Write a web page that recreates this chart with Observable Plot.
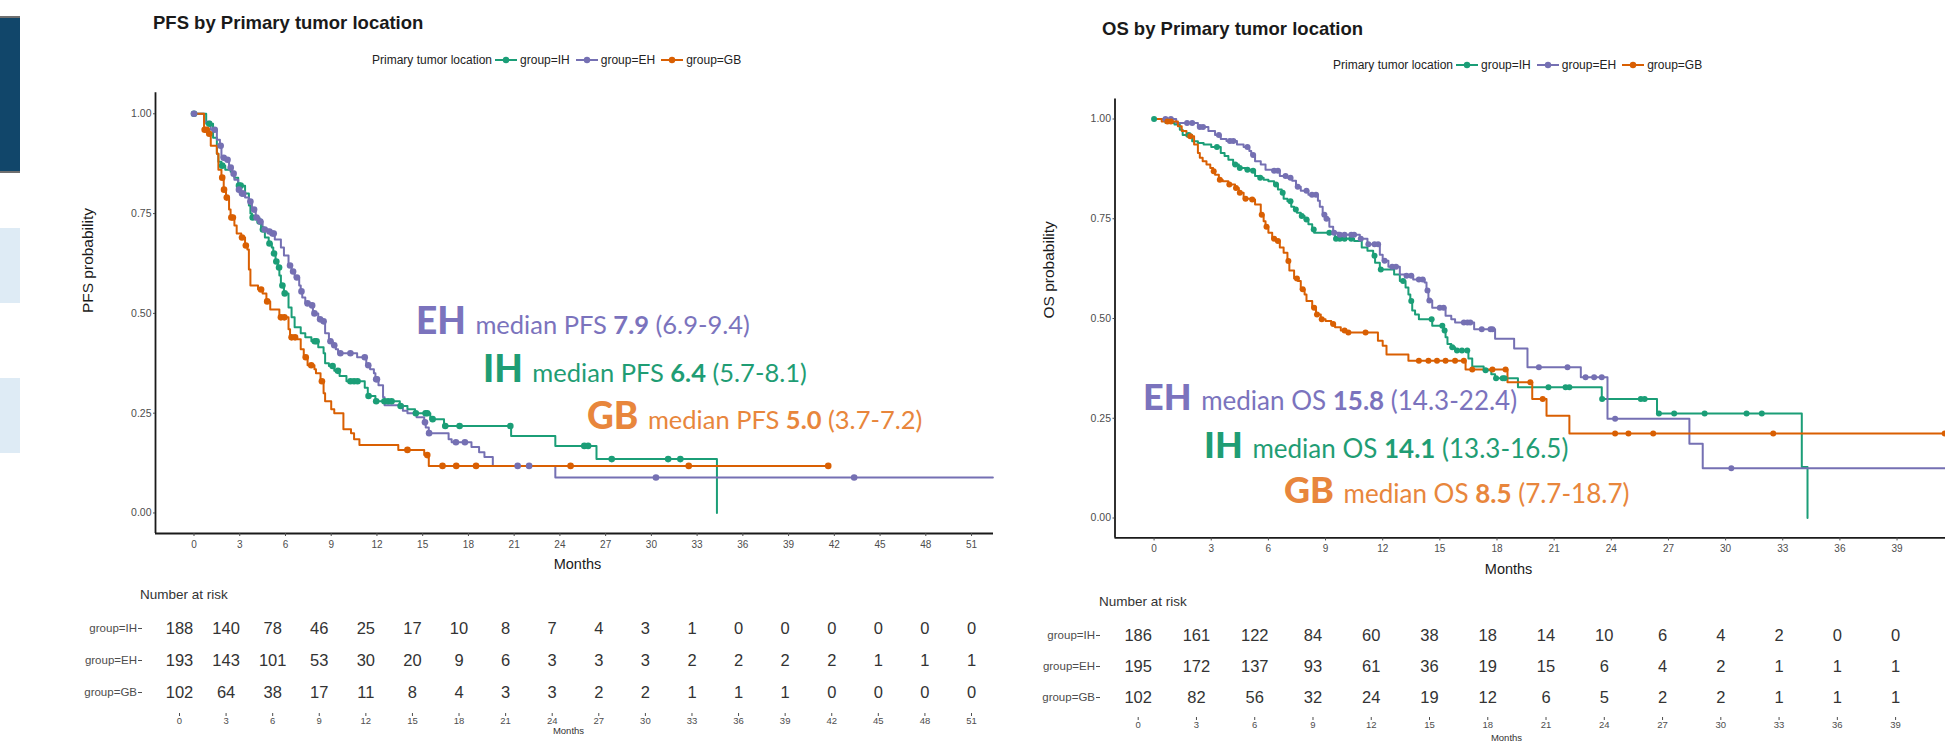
<!DOCTYPE html>
<html>
<head>
<meta charset="utf-8">
<script src="https://cdn.jsdelivr.net/npm/d3@7"></script>
<script src="https://cdn.jsdelivr.net/npm/@observablehq/plot@0.6"></script>
<style>
  html, body { margin:0; padding:0; background:#fff; width:1945px; height:745px; overflow:hidden; }
  #page { position:relative; width:1945px; height:745px; overflow:hidden; background:#fff; }
  #page svg { max-width:none !important; }
  .abs { position:absolute; }
  .deco { position:absolute; left:0; width:20px; }
  .title { position:absolute; font-family:"Liberation Sans", Arial, sans-serif; font-weight:700; color:#1a1a1a; white-space:nowrap; line-height:1; font-size:18.5px; }
  .legend { position:absolute; display:flex; align-items:center; white-space:nowrap; line-height:1; color:#222; font-family:"Liberation Sans", Arial, sans-serif; font-size:12px; }
  .legend svg { margin:0 3px 0 3px; }
  .risk-title { position:absolute; white-space:nowrap; line-height:1; color:#333; font-family:"Liberation Sans", Arial, sans-serif; font-size:13.5px; }
  .annot { position:absolute; white-space:pre; line-height:1; font-family: Lato, "Open Sans", sans-serif; }
  .annot .g { font-weight:900; }
  .annot .s { margin-left:3px; }
  .annot b { font-weight:700; }
</style>
</head>
<body>
<div id="page"></div>
<script>
// ---------------- data ----------------
const groups = ["IH", "EH", "GB"];
const groupLabels = ["group=IH", "group=EH", "group=GB"];
const groupColors = ["#1b9e77", "#7570b3", "#d95f02"];
const yTicks = [0, 0.25, 0.5, 0.75, 1];

const pfsMonths = [0,3,6,9,12,15,18,21,24,27,30,33,36,39,42,45,48,51];
const osMonths = [0,3,6,9,12,15,18,21,24,27,30,33,36,39];

// PFS Kaplan-Meier steps (time in months, survival after the step)
const pfsIH_t = [0,0.8,1.25,1.5,1.6,1.8,2.05,2.4,2.65,2.9,3.35,3.6,3.7,3.8,4.2,4.4,4.65,4.9,5.1,5.2,5.35,5.5,5.6,5.7,5.9,6.2,6.4,6.6,7.0,7.3,7.7,8.15,8.5,8.6,8.85,9.2,9.55,10.0,11.2,11.4,11.9,13.5,14.0,14.5,15.5,16.4,20.8,23.7,26.4,34.3];
const pfsIH_s = [1,0.975,0.94,0.90,0.88,0.87,0.86,0.855,0.84,0.82,0.80,0.77,0.75,0.74,0.73,0.71,0.69,0.675,0.665,0.65,0.63,0.615,0.595,0.57,0.55,0.515,0.49,0.465,0.45,0.44,0.43,0.415,0.40,0.375,0.368,0.356,0.343,0.33,0.314,0.293,0.28,0.268,0.26,0.25,0.235,0.218,0.193,0.168,0.135,0];
const pfsIH_c = [0,1.0,1.85,2.95,3.06,3.85,4.3,4.52,4.95,5.25,5.4,5.58,5.8,5.95,7.92,8.04,9.09,9.44,10.26,10.5,10.73,11.45,11.95,12.49,12.73,12.96,13.55,14.55,15.19,15.3,15.65,16.48,17.42,20.75,25.6,25.85,27.4,31.1,31.9];

const pfsEH_t = [0,0.66,1.1,1.5,1.7,1.8,2.1,2.3,2.5,2.65,2.9,3.1,3.35,3.6,3.8,4.05,4.3,4.5,4.9,5.1,5.3,5.7,5.9,6.2,6.4,6.6,6.9,7.0,7.1,7.3,7.7,7.8,8.15,8.4,8.6,8.85,9.1,9.3,9.45,10.7,11.3,11.55,11.8,11.9,12.1,12.4,12.5,13.7,14.0,14.6,15.1,15.2,15.4,16.7,16.9,18.2,18.7,19.05,19.6,23.7,52.4];
const pfsEH_s = [1,0.98,0.96,0.935,0.92,0.89,0.885,0.865,0.85,0.835,0.81,0.80,0.79,0.78,0.76,0.74,0.73,0.71,0.705,0.70,0.685,0.665,0.645,0.62,0.605,0.59,0.57,0.555,0.54,0.525,0.52,0.50,0.485,0.48,0.45,0.43,0.42,0.41,0.40,0.39,0.37,0.36,0.35,0.335,0.32,0.29,0.27,0.256,0.25,0.24,0.227,0.214,0.20,0.185,0.177,0.165,0.152,0.14,0.118,0.089,0.089];
const pfsEH_c = [0,1.36,1.75,1.95,2.2,2.41,2.6,2.95,3.15,3.23,3.7,3.94,4.1,4.35,4.64,4.95,5.15,5.23,6.3,6.5,6.75,7.05,7.45,7.75,7.9,8.27,8.5,8.95,9.2,9.6,10.26,11.2,11.43,11.95,12.0,15.15,15.42,17.18,17.77,21.23,21.98,30.3,43.3];

const pfsGB_t = [0,0.66,0.9,1.1,1.5,1.6,1.8,1.95,2.1,2.3,2.4,2.65,2.8,3.1,3.35,3.5,3.6,3.7,4.2,4.5,4.75,5.0,5.6,6.2,6.3,6.75,7.0,7.2,7.45,7.9,8.0,8.3,8.5,8.6,9.0,9.2,9.8,10.3,10.5,10.85,13.4,15.1,15.4,41.6];
const pfsGB_s = [1,0.96,0.95,0.92,0.90,0.86,0.84,0.81,0.79,0.76,0.74,0.72,0.70,0.69,0.67,0.66,0.61,0.57,0.56,0.55,0.53,0.51,0.49,0.46,0.44,0.435,0.41,0.39,0.37,0.36,0.35,0.33,0.30,0.28,0.26,0.25,0.21,0.20,0.185,0.17,0.158,0.145,0.118,0.118];
const pfsGB_c = [0.7,0.84,1.0,1.85,1.97,2.15,2.45,2.55,3.15,3.4,4.4,4.8,5.7,5.93,6.4,6.63,7.33,7.69,8.39,14.0,15.3,16.3,17.2,18.5,24.7,32.45,41.6];

// OS Kaplan-Meier steps
const osIH_t = [0,0.6,1.07,1.35,1.5,2.0,2.3,2.6,3.0,3.5,3.7,3.9,4.15,4.45,4.8,5.1,5.3,5.5,5.75,6.0,6.3,6.5,6.7,6.8,7.0,7.2,7.35,7.5,7.7,7.9,8.1,8.3,8.4,9.5,10.5,10.9,11.2,11.5,11.6,11.85,12.6,12.9,13.2,13.35,13.45,13.55,13.7,13.9,14.6,15.2,15.3,15.4,15.6,15.8,16.5,16.7,17.3,17.7,17.9,19.1,23.5,26.4,34.0,34.3];
const osIH_s = [1,0.99,0.986,0.973,0.96,0.944,0.94,0.936,0.93,0.915,0.907,0.898,0.886,0.877,0.873,0.87,0.857,0.853,0.848,0.844,0.836,0.823,0.815,0.80,0.794,0.78,0.773,0.765,0.757,0.748,0.736,0.723,0.715,0.70,0.694,0.678,0.67,0.657,0.64,0.623,0.61,0.594,0.578,0.56,0.544,0.52,0.51,0.498,0.482,0.47,0.453,0.436,0.428,0.42,0.40,0.38,0.37,0.36,0.35,0.328,0.298,0.262,0.128,0];
const osIH_c = [0,1.82,3.3,4.26,4.5,4.9,5.2,5.57,6.4,6.75,7.16,7.44,7.75,8.0,8.38,9.2,9.55,9.75,10.0,10.35,11.57,11.9,13.07,13.5,14.57,15.13,15.25,15.65,15.9,16.16,16.44,17.4,17.95,18.3,18.4,20.7,21.6,21.8,23.52,25.55,25.75,26.5,27.3,28.9,31.1,31.9];

const osEH_t = [0,1.16,2.3,2.85,3.2,3.5,3.8,4.35,4.7,5.0,5.1,5.3,5.6,5.85,6.2,6.6,7.0,7.25,7.45,7.7,8.1,8.6,8.7,8.85,9.0,9.2,9.4,9.7,10.8,11.2,11.85,12.0,12.3,12.9,13.2,13.6,14.2,14.3,14.4,14.6,15.3,15.6,15.8,16.8,17.9,18.9,19.6,22.4,23.8,28.1,28.8,43.7];
const osEH_s = [1,0.99,0.98,0.97,0.96,0.95,0.945,0.936,0.93,0.92,0.91,0.894,0.886,0.873,0.87,0.857,0.853,0.845,0.83,0.82,0.81,0.795,0.78,0.76,0.75,0.73,0.715,0.71,0.70,0.686,0.66,0.645,0.63,0.61,0.607,0.598,0.59,0.57,0.545,0.527,0.507,0.498,0.49,0.473,0.449,0.425,0.378,0.353,0.249,0.186,0.125,0.125];
const osEH_c = [0.6,0.88,1.73,2.0,2.4,2.57,3.4,3.98,4.16,4.9,5.2,6.3,6.5,6.9,7.16,7.54,8.0,8.29,8.5,8.94,9.05,9.45,9.75,10.0,10.35,10.5,10.85,11.25,11.57,11.76,12.1,12.5,12.7,13.25,13.5,13.9,14.1,14.35,14.45,15.0,15.2,16.26,16.45,16.6,17.2,17.66,17.76,20.2,21.7,22.65,23.1,23.5,24.2,30.3];

const osGB_t = [0,0.4,1.25,1.45,1.7,2.1,2.3,2.4,2.55,2.75,2.95,3.1,3.2,3.4,3.6,3.9,4.25,4.45,4.7,5.1,5.3,5.6,5.75,5.85,6.0,6.2,6.4,6.6,6.8,7.0,7.1,7.35,7.55,7.7,7.9,8.0,8.3,8.5,8.75,9.0,9.3,9.5,9.8,10.1,11.75,12.0,12.2,13.35,16.35,18.55,19.85,20.6,21.8,41.5];
const osGB_s = [1,0.994,0.982,0.97,0.957,0.936,0.915,0.903,0.894,0.886,0.877,0.869,0.86,0.848,0.844,0.836,0.827,0.815,0.80,0.798,0.786,0.76,0.744,0.73,0.715,0.70,0.694,0.678,0.665,0.644,0.62,0.60,0.594,0.573,0.56,0.544,0.527,0.51,0.498,0.494,0.486,0.478,0.47,0.465,0.444,0.432,0.41,0.394,0.372,0.34,0.298,0.256,0.212,0.212];
const osGB_c = [0.7,0.88,1.9,3.13,3.45,3.95,4.3,4.5,4.8,5.15,5.65,5.9,6.3,6.5,7.05,7.5,7.8,8.4,8.55,8.8,9.4,10.0,10.2,11.1,13.9,14.4,14.85,15.3,15.8,16.26,16.7,17.76,18.45,19.75,20.4,24.2,24.9,26.2,32.5,41.5];

// Number at risk
const pfsRiskIH = [188,140,78,46,25,17,10,8,7,4,3,1,0,0,0,0,0,0];
const pfsRiskEH = [193,143,101,53,30,20,9,6,3,3,3,2,2,2,2,1,1,1];
const pfsRiskGB = [102,64,38,17,11,8,4,3,3,2,2,1,1,1,0,0,0,0];
const osRiskIH = [186,161,122,84,60,38,18,14,10,6,4,2,0,0];
const osRiskEH = [195,172,137,93,61,36,19,15,6,4,2,1,1,1];
const osRiskGB = [102,82,56,32,24,19,12,6,5,2,2,1,1,1];

// Median annotations (order EH, IH, GB)
const medianGroups = ["EH", "IH", "GB"];
const medianColors = ["#7b73bd", "#1f9d74", "#e8863c"];
const pfsMedianEst = ["7.9", "6.4", "5.0"];
const pfsMedianCI = ["(6.9-9.4)", "(5.7-8.1)", "(3.7-7.2)"];
const osMedianEst = ["15.8", "14.1", "8.5"];
const osMedianCI = ["(14.3-22.4)", "(13.3-16.5)", "(7.7-18.7)"];

// ---------------- helpers ----------------
const FONT = '"Liberation Sans", Arial, sans-serif';
const page = document.getElementById("page");

function survAt(times, survs, t) {
  let s = survs[0];
  for (let i = 0; i < times.length; i++) if (times[i] <= t) s = survs[i];
  return s;
}
function km(group, times, survs) { return times.map((t, i) => ({group, t, s: survs[i]})); }
function cens(group, times, survs, ct) { return ct.map(t => ({group, t, s: survAt(times, survs, t)})); }
function riskRows(months, rows) {
  return rows.flatMap((vals, gi) => vals.map((n, i) => ({g: groupLabels[gi], t: months[i], n})));
}
function place(node, left, top) {
  const d = document.createElement("div");
  d.className = "abs";
  d.style.left = left + "px";
  d.style.top = top + "px";
  d.appendChild(node);
  page.appendChild(d);
  return d;
}
function deco(top, height, color, border) {
  const d = document.createElement("div");
  d.className = "deco";
  d.style.top = top + "px";
  d.style.height = height + "px";
  d.style.background = color;
  if (border) { d.style.borderTop = border; d.style.borderBottom = border; }
  page.appendChild(d);
}
function title(text, left, top) {
  const d = document.createElement("div");
  d.className = "title";
  d.textContent = text;
  d.style.left = left + "px"; d.style.top = top + "px";
  page.appendChild(d);
}
function legend(left, top) {
  const d = document.createElement("div");
  d.className = "legend";
  d.style.left = left + "px"; d.style.top = top + "px";
  let html = `<span>Primary tumor location</span>`;
  groups.forEach((g, i) => {
    html += `<svg width="22" height="10"><line x1="0" x2="22" y1="5" y2="5" stroke="${groupColors[i]}" stroke-width="2"/><circle cx="11" cy="5" r="3.2" fill="${groupColors[i]}"/></svg><span>${groupLabels[i]}</span>`;
    if (i < groups.length - 1) html += `<span style="width:3px"></span>`;
  });
  d.innerHTML = html;
  page.appendChild(d);
}
function riskTitle(left, top) {
  const d = document.createElement("div");
  d.className = "risk-title";
  d.textContent = "Number at risk";
  d.style.left = left + "px"; d.style.top = top + "px";
  page.appendChild(d);
}
function annot(i, label, est, ci, left, baseline, big, small) {
  const d = document.createElement("div");
  d.className = "annot";
  d.style.left = left + "px";
  d.style.top = (baseline - 0.887 * big) + "px";
  d.style.fontSize = big + "px";
  d.style.color = medianColors[i];
  d.innerHTML = `<span class="g">${medianGroups[i]}</span><span class="s" style="font-size:${small}px"> ${label} <b>${est}</b> ${ci}</span>`;
  page.appendChild(d);
}

function mainPlot(o) {
  const {width, height, xDomain, xRange, yDomain, yRange, xTicks, lines, dots, ylabel, ylabelDx, xlabelDx, xlabelDy, dotR} = o;
  return Plot.plot({
    width, height,
    marginLeft: xRange[0], marginRight: width - xRange[1],
    marginTop: yRange[1], marginBottom: height - yRange[0],
    x: {domain: xDomain, range: xRange},
    y: {domain: yDomain, range: yRange},
    color: {domain: groups, range: groupColors},
    style: {fontFamily: FONT, background: "transparent", overflow: "visible", maxWidth: "none"},
    marks: [
      Plot.ruleX([xDomain[0]], {stroke: "#1a1a1a", strokeWidth: 1.8}),
      Plot.ruleY([yDomain[0]], {stroke: "#1a1a1a", strokeWidth: 1.8}),
      Plot.axisX({ticks: xTicks, tickSize: 3, tickPadding: 4, fontSize: 10, color: "#4d4d4d", label: null}),
      Plot.axisY({ticks: yTicks, tickFormat: d3.format(".2f"), tickSize: 2, tickPadding: 2, fontSize: 10.5, color: "#4d4d4d", label: null}),
      Plot.text(["Months"], {text: d => d, frameAnchor: "bottom", dx: xlabelDx, dy: xlabelDy, fontSize: 14.5, fill: "#1a1a1a"}),
      Plot.text([ylabel], {text: d => d, frameAnchor: "left", dx: ylabelDx, rotate: -90, fontSize: 15.5, fill: "#1a1a1a"}),
      Plot.line(lines, {x: "t", y: "s", z: "group", stroke: "group", curve: "step-after", strokeWidth: 2}),
      Plot.dot(dots, {x: "t", y: "s", fill: "group", r: dotR})
    ]
  });
}

function riskPlot(o) {
  const {width, height, marginLeft, marginRight, marginTop, marginBottom, xDomain, xRange, yRange, ticks, data, monthsDy} = o;
  return Plot.plot({
    width, height, marginLeft, marginRight, marginTop, marginBottom,
    x: {domain: xDomain, range: xRange},
    y: {type: "point", domain: groupLabels, range: yRange, padding: 0},
    style: {fontFamily: FONT, background: "transparent", overflow: "visible", maxWidth: "none"},
    marks: [
      Plot.axisY({anchor: "left", tickSize: 4, tickPadding: 1.5, fontSize: 11.5, color: "#4d4d4d", label: null}),
      Plot.axisX({ticks, tickSize: 3, tickPadding: 1, fontSize: 9.5, color: "#4d4d4d", label: null}),
      Plot.text(data, {x: "t", y: "g", text: "n", fontSize: 16.5, fill: "#333"}),
      Plot.text(["Months"], {text: d => d, frameAnchor: "bottom", dy: monthsDy, fontSize: 9.5, fill: "#333"})
    ]
  });
}

// ---------------- slide decorations ----------------
deco(16, 153, "#11466a", "2.5px solid #6f6f6f");
deco(228, 75, "#deebf5");
deco(378, 75, "#deebf5");

// ---------------- left panel: PFS ----------------
title("PFS by Primary tumor location", 153, 13.5);
legend(372, 54);

const pfsLines = [...km("IH", pfsIH_t, pfsIH_s), ...km("EH", pfsEH_t, pfsEH_s), ...km("GB", pfsGB_t, pfsGB_s)];
const pfsDots = [...cens("IH", pfsIH_t, pfsIH_s, pfsIH_c), ...cens("EH", pfsEH_t, pfsEH_s, pfsEH_c), ...cens("GB", pfsGB_t, pfsGB_s, pfsGB_c)];

place(mainPlot({
  width: 1000, height: 590,
  xDomain: [-2.525, 52.44], xRange: [155, 993],
  yDomain: [-0.0514, 1.0528], yRange: [533, 92.2],
  xTicks: pfsMonths, lines: pfsLines, dots: pfsDots,
  ylabel: "PFS probability", ylabelDx: -67, xlabelDx: 3, xlabelDy: 35, dotR: 3.3
}), 0, 0);

riskTitle(140, 588);
place(riskPlot({
  width: 1000, height: 175, marginLeft: 142, marginRight: 6, marginTop: 20, marginBottom: 32,
  xDomain: [0, 51], xRange: [179, 971], yRange: [58, 122],
  ticks: pfsMonths, data: riskRows(pfsMonths, [pfsRiskIH, pfsRiskEH, pfsRiskGB]), monthsDy: 20
}), 0, 570);

annot(0, "median PFS", pfsMedianEst[0], pfsMedianCI[0], 416, 334, 37, 25.5);
annot(1, "median PFS", pfsMedianEst[1], pfsMedianCI[1], 483, 382, 37, 25.5);
annot(2, "median PFS", pfsMedianEst[2], pfsMedianCI[2], 587, 429, 37, 25.5);

// ---------------- right panel: OS ----------------
title("OS by Primary tumor location", 1102, 20);
legend(1333, 59);

const osLines = [...km("IH", osIH_t, osIH_s), ...km("EH", osEH_t, osEH_s), ...km("GB", osGB_t, osGB_s)];
const osDots = [...cens("IH", osIH_t, osIH_s, osIH_c), ...cens("EH", osEH_t, osEH_s, osEH_c), ...cens("GB", osGB_t, osGB_s, osGB_c)];

place(mainPlot({
  width: 1000, height: 590,
  xDomain: [-2.052, 43.68], xRange: [114.5, 985.7],
  yDomain: [-0.05, 1.05], yRange: [537.45, 98.55],
  xTicks: osMonths, lines: osLines, dots: osDots,
  ylabel: "OS probability", ylabelDx: -65.5, xlabelDx: -42, xlabelDy: 36.5, dotR: 3
}), 1000, 0);

riskTitle(1099, 595);
place(riskPlot({
  width: 1000, height: 175, marginLeft: 100, marginRight: 88, marginTop: 20, marginBottom: 28,
  xDomain: [0, 39], xRange: [137.7, 895.1], yRange: [64, 127.7],
  ticks: osMonths, data: riskRows(osMonths, [osRiskIH, osRiskEH, osRiskGB]), monthsDy: 23
}), 1000, 570);

annot(0, "median OS", osMedianEst[0], osMedianCI[0], 1143, 410, 36, 26);
annot(1, "median OS", osMedianEst[1], osMedianCI[1], 1204, 458, 36, 26);
annot(2, "median OS", osMedianEst[2], osMedianCI[2], 1284, 503, 36, 26);
</script>
</body>
</html>
